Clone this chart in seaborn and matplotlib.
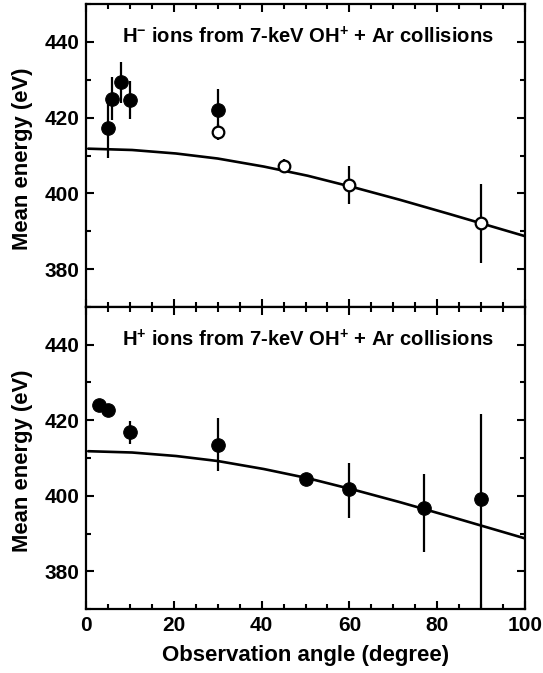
import numpy as np
import pandas as pd
import seaborn as sns
import matplotlib
matplotlib.use("Agg")
import matplotlib.pyplot as plt
from matplotlib.ticker import MultipleLocator

sns.set_theme(style="ticks")
plt.rcParams['font.family'] = ['Liberation Sans', 'DejaVu Sans']
plt.rcParams['font.weight'] = 'bold'
plt.rcParams['mathtext.fontset'] = 'custom'
plt.rcParams['mathtext.rm'] = 'Liberation Sans:bold'
plt.rcParams['mathtext.bf'] = 'Liberation Sans:bold'
plt.rcParams['mathtext.it'] = 'Liberation Sans:bold'
for k in ('text.color', 'axes.labelcolor', 'xtick.color', 'ytick.color', 'axes.edgecolor'):
    plt.rcParams[k] = 'black'

# ---- top panel: H- ions ----
hm_filled_angle = [5, 6, 8, 10, 30]
hm_filled_energy = [417.3, 425.0, 429.3, 424.7, 422.0]
hm_filled_err = [8.0, 5.6, 5.5, 5.0, 5.5]

hm_open_angle = [30, 45, 60, 90]
hm_open_energy = [416.2, 407.3, 402.2, 392.1]
hm_open_err = [2.0, 1.8, 5.0, 10.4]

# ---- bottom panel: H+ ions ----
hp_angle = [3, 5, 10, 30, 50, 60, 77, 90]
hp_energy = [424.0, 422.8, 416.8, 413.5, 404.5, 401.7, 396.7, 399.2]
hp_err_low = [0.8, 0.8, 3.0, 7.0, 1.0, 7.5, 11.5, 30.0]
hp_err_high = [0.8, 0.8, 3.0, 7.0, 1.0, 7.0, 9.0, 22.4]

# ---- model curve ----
curve_angle = [0.5, 10, 20, 30, 40, 50, 60, 70, 80, 90, 100]
curve_energy = [411.8, 411.5, 410.6, 409.2, 407.2, 404.8, 401.9, 398.8, 395.5, 392.1, 388.7]

title_top = r"H$^{-}$ ions from 7-keV OH$^{+}$ + Ar collisions"
title_bot = r"H$^{+}$ ions from 7-keV OH$^{+}$ + Ar collisions"
xlabel = "Observation angle (degree)"
ylabel = "Mean energy (eV)"
xticks = [0, 20, 40, 60, 80, 100]
yticks = [380, 400, 420, 440]

fig = plt.figure(figsize=(5.43, 6.73), dpi=100)
ax1 = fig.add_axes([86/543, 1-307/673, (525-86)/543, (307-4)/673])
ax2 = fig.add_axes([86/543, 1-609/673, (525-86)/543, (609-307)/673], sharex=ax1)

xs = np.linspace(curve_angle[0], curve_angle[-1], 200)
ys = np.interp(xs, curve_angle, curve_energy)
cs = pd.DataFrame({"angle": xs, "energy": ys})

lw_err = 1.6
for ax in (ax1, ax2):
    sns.lineplot(data=cs, x="angle", y="energy", ax=ax, color="black", lw=1.9, zorder=2)

ax1.errorbar(hm_filled_angle, hm_filled_energy, yerr=hm_filled_err, fmt="none",
             ecolor="black", elinewidth=lw_err, capsize=0, zorder=3)
sns.scatterplot(x=hm_filled_angle, y=hm_filled_energy, ax=ax1, color="black",
                s=95, edgecolor="black", zorder=4)
ax1.errorbar(hm_open_angle, hm_open_energy, yerr=hm_open_err, fmt="none",
             ecolor="black", elinewidth=lw_err, capsize=0, zorder=3)
sns.scatterplot(x=hm_open_angle, y=hm_open_energy, ax=ax1, facecolor="white",
                s=70, edgecolor="black", linewidth=1.6, zorder=4)

ax2.errorbar(hp_angle, hp_energy, yerr=[hp_err_low, hp_err_high], fmt="none",
             ecolor="black", elinewidth=lw_err, capsize=0, zorder=3)
sns.scatterplot(x=hp_angle, y=hp_energy, ax=ax2, color="black",
                s=95, edgecolor="black", zorder=4)

for ax, t in ((ax1, title_top), (ax2, title_bot)):
    ax.set_xlim(0, 100)
    ax.set_ylim(370, 450)
    ax.set_yticks(yticks)
    ax.yaxis.set_minor_locator(MultipleLocator(10))
    ax.xaxis.set_minor_locator(MultipleLocator(5))
    ax.tick_params(which="both", direction="in", top=True, right=True, width=1.5)
    ax.tick_params(which="major", length=6, labelsize=15, pad=5)
    ax.tick_params(which="minor", length=3.5)
    for s in ax.spines.values():
        s.set_linewidth(1.6)
        s.set_color("black")
    ax.set_ylabel(ylabel, fontsize=15.8, fontweight="bold")
    ax.yaxis.set_label_coords(-0.12, 0.49)
    ax.text(0.505, 0.893, t, transform=ax.transAxes, ha="center", va="center",
            fontsize=14.6, fontweight="bold")
    for lab in ax.get_yticklabels() + ax.get_xticklabels():
        lab.set_fontweight("bold")

ax2.set_xticks(xticks)
ax1.tick_params(labelbottom=False)
ax1.set_xlabel("")
ax2.set_xlabel(xlabel, fontsize=16, fontweight="bold", labelpad=7)

fig.savefig("out.png", dpi=100)
